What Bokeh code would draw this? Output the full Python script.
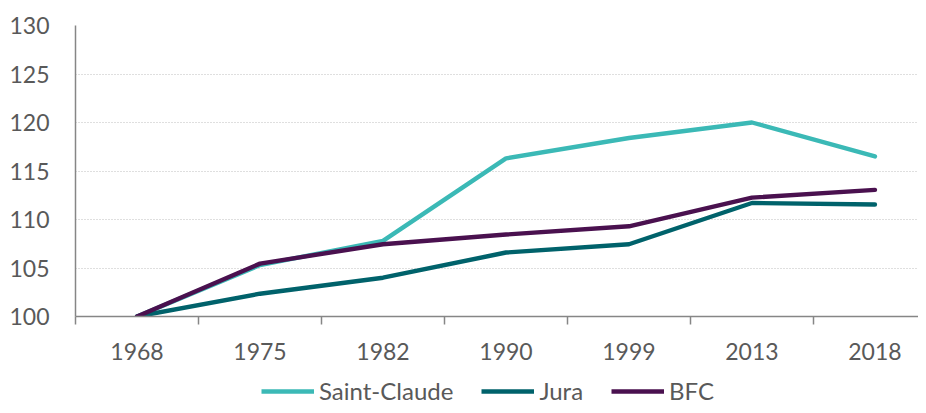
from bokeh.plotting import figure
from bokeh.layouts import column
from bokeh.models import Range1d, FixedTicker, Legend, LegendItem, ColumnDataSource
from bokeh.embed import file_html
from bokeh.resources import INLINE

years = ["1968", "1975", "1982", "1990", "1999", "2013", "2018"]
saint_claude = [100.0, 105.3, 107.8, 116.3, 118.4, 120.0, 116.5]
jura = [100.0, 102.35, 104.0, 106.6, 107.45, 111.7, 111.55]
bfc = [100.0, 105.45, 107.45, 108.45, 109.3, 112.25, 113.05]
y_ticks = [100, 105, 110, 115, 120, 125, 130]

names = ["Saint-Claude", "Jura", "BFC"]
colors = ["#3bb9b6", "#00626b", "#4a114f"]

FONT = "Lato"
TXT = "#595959"
AXC = "#868686"
LW = 4.4

pos = [float(i) + 0.5 for i in range(len(years))]
bounds = [float(i) for i in range(len(years) + 1)]

src = ColumnDataSource(dict(x=pos, sc=saint_claude, ju=jura, bf=bfc))
cols = ["sc", "ju", "bf"]

p = figure(width=918, height=366, x_range=Range1d(0, 6.854), y_range=Range1d(100, 130),
           output_backend="svg", toolbar_location=None,
           min_border_left=75, min_border_right=0, min_border_top=25, min_border_bottom=50)
p.outline_line_color = None

for col, c in zip(cols, colors):
    p.line("x", col, source=src, line_color=c, line_width=LW, line_join="round", line_cap="round")

# x axis
xa = p.xaxis[0]
xa.ticker = FixedTicker(ticks=pos, minor_ticks=bounds)
xa.major_label_overrides = {x: y for x, y in zip(pos, years)}
xa.major_tick_out = 0
xa.major_tick_in = 0
xa.minor_tick_out = 8
xa.minor_tick_in = 0
xa.minor_tick_line_color = AXC
xa.minor_tick_line_width = 1.5
xa.axis_line_color = AXC
xa.axis_line_width = 1.5
xa.major_label_text_font = FONT
xa.major_label_text_font_size = "23px"
xa.major_label_text_color = TXT
xa.major_label_standoff = 18

# y axis
ya = p.yaxis[0]
ya.ticker = FixedTicker(ticks=y_ticks)
ya.major_tick_out = 0
ya.major_tick_in = 0
ya.minor_tick_line_color = None
ya.axis_line_color = AXC
ya.axis_line_width = 1.5
ya.major_label_text_font = FONT
ya.major_label_text_font_size = "23px"
ya.major_label_text_color = TXT
ya.major_label_standoff = 26

p.xgrid.grid_line_color = None
p.ygrid.grid_line_color = "#bfbfbf"
p.ygrid.grid_line_dash = "1 2"
p.ygrid.grid_line_width = 1

# legend strip below the chart (its lines use the same data but lie outside its view)
lf = figure(width=918, height=39, x_range=Range1d(0, 1), y_range=Range1d(0, 1),
            output_backend="svg", toolbar_location=None,
            x_axis_type=None, y_axis_type=None, min_border=0)
lf.outline_line_color = None
lf.xgrid.grid_line_color = None
lf.ygrid.grid_line_color = None
leg_renderers = [lf.line("x", col, source=src, line_color=c, line_width=LW)
                 for col, c in zip(cols, colors)]

legend = Legend(items=[LegendItem(label=n, renderers=[r]) for n, r in zip(names, leg_renderers)],
                location=(186, 0), orientation="horizontal",
                glyph_width=53, glyph_height=20, label_standoff=5, spacing=28,
                padding=0, margin=0, border_line_color=None, background_fill_alpha=0,
                label_text_font=FONT, label_text_font_size="24px", label_text_color=TXT)
lf.add_layout(legend, "center")

layout = column(p, lf, spacing=0)
open("out.html", "w").write(file_html(layout, INLINE))
